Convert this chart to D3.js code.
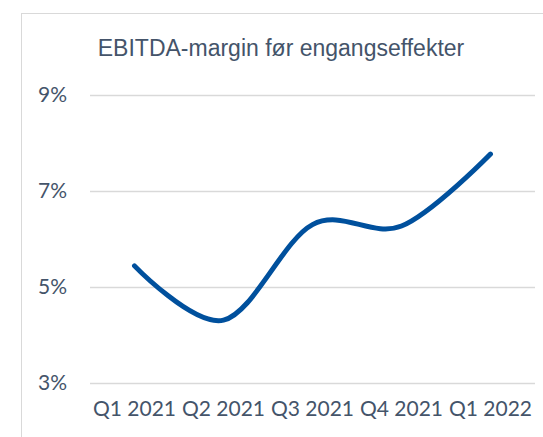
<!DOCTYPE html>
<html><head><meta charset="utf-8">
<script src="https://cdn.jsdelivr.net/npm/d3@7"></script>
<style>html,body{margin:0;padding:0;background:#fff;}</style>
</head><body>
<script>
const categories = ["Q1 2021","Q2 2021","Q3 2021","Q4 2021","Q1 2022"];
const values = [5.44, 4.31, 6.3, 6.27, 7.77];
const yTicks = [3,5,7,9];
const title = "EBITDA-margin før engangseffekter";

const W = 543, H = 437;
const svg = d3.select("body").append("svg").attr("width", W).attr("height", H);
const textColor = "#44546A";

// chart border
svg.append("rect").attr("x", 21.5).attr("y", 13.5).attr("width", 560).attr("height", 460)
  .attr("fill", "none").attr("stroke", "#d9d9d9").attr("stroke-width", 1);

const x = d3.scaleBand().domain(categories).range([90, 535]);
const y = d3.scaleLinear().domain([3, 9]).range([383, 95]);

svg.append("text").attr("x", 281).attr("y", 56).attr("text-anchor", "middle")
  .attr("font-family", "Liberation Sans, Arial, sans-serif").attr("font-size", 23)
  .attr("fill", textColor).text(title);

// gridlines
svg.append("g").selectAll("line").data(yTicks).join("line")
  .attr("x1", 90).attr("x2", 535)
  .attr("y1", d => Math.round(y(d)) + 0.5).attr("y2", d => Math.round(y(d)) + 0.5)
  .attr("stroke", "#d9d9d9").attr("stroke-width", 1.5);

const yAxis = d3.axisLeft(y).tickValues(yTicks).tickSize(0).tickPadding(0).tickFormat(d => d + "%");
const gy = svg.append("g").attr("transform", "translate(67,0)").call(yAxis);
gy.select(".domain").remove();
gy.selectAll("text").attr("font-family", "Lato, sans-serif").attr("font-size", 21).attr("fill", textColor);

const xAxis = d3.axisBottom(x).tickSize(0).tickPadding(0);
const gx = svg.append("g").attr("transform", "translate(0,398)").call(xAxis);
gx.select(".domain").remove();
gx.selectAll("text").attr("font-family", "Lato, sans-serif").attr("font-size", 21).attr("fill", textColor)
  .attr("dy", "0.85em");

const line = d3.line()
  .x((d, i) => x(categories[i]) + x.bandwidth() / 2)
  .y(d => y(d))
  .curve(d3.curveCatmullRom.alpha(0));
svg.append("path").datum(values).attr("d", line)
  .attr("fill", "none").attr("stroke", "#00509D").attr("stroke-width", 5)
  .attr("stroke-linecap", "round").attr("stroke-linejoin", "round");
</script>
</body></html>
